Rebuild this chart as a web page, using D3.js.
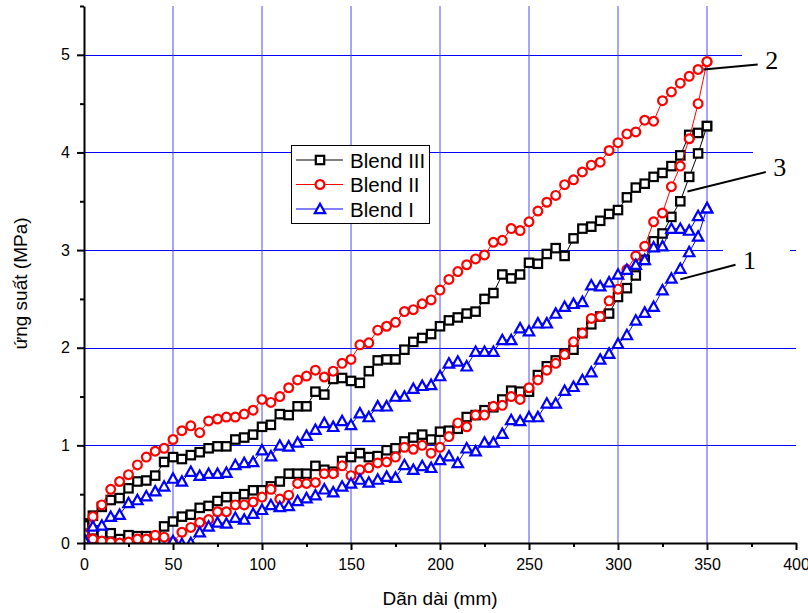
<!DOCTYPE html>
<html>
<head>
<meta charset="utf-8">
<script src="https://cdn.jsdelivr.net/npm/d3@7"></script>
<style>
  body { margin: 0; background: #fff; }
  svg { display: block; }
</style>
</head>
<body>
<div id="chart"></div>
<script>
// elongation (mm), one sample every 5 mm
const strain = [0,5,10,15,20,25,30,35,40,45,50,55,60,65,70,75,80,85,90,95,100,
  105,110,115,120,125,130,135,140,145,150,155,160,165,170,175,180,185,190,195,200,
  205,210,215,220,225,230,235,240,245,250,255,260,265,270,275,280,285,290,295,300,
  305,310,315,320,325,330,335,340,345,350];

// stress (MPa): upper branch and lower branch, both listed from 0 to 350 mm
const blend3Upper = [0.20,0.28,0.37,0.44,0.46,0.56,0.63,0.64,0.69,0.83,0.88,0.86,0.90,0.93,0.97,0.99,0.99,1.06,1.08,1.11,1.19,
  1.21,1.32,1.31,1.40,1.40,1.55,1.52,1.68,1.69,1.66,1.64,1.76,1.87,1.88,1.88,1.98,2.06,2.10,2.14,2.22,
  2.28,2.31,2.35,2.37,2.50,2.56,2.75,2.71,2.75,2.87,2.86,2.96,3.02,2.94,3.12,3.22,3.24,3.30,3.37,3.41,
  3.54,3.64,3.68,3.75,3.79,3.86,3.97,4.18,4.20,4.27];
const blend3Lower = [0.18,0.13,0.10,0.10,0.04,0.08,0.07,0.07,0.02,0.17,0.22,0.27,0.29,0.36,0.38,0.43,0.47,0.47,0.50,0.54,0.54,
  0.58,0.63,0.71,0.71,0.71,0.79,0.75,0.73,0.84,0.88,0.92,0.88,0.89,0.95,0.97,1.04,1.08,1.11,1.06,1.14,
  1.15,1.17,1.29,1.31,1.36,1.39,1.47,1.56,1.55,1.55,1.72,1.81,1.87,1.94,1.98,2.15,2.24,2.32,2.35,2.52,
  2.61,2.74,2.90,3.09,3.17,3.34,3.50,3.75,3.99,4.27];

const blend2Upper = [0.09,0.27,0.39,0.55,0.63,0.70,0.80,0.88,0.94,0.97,1.06,1.15,1.20,1.13,1.25,1.27,1.29,1.29,1.32,1.36,1.47,
  1.44,1.50,1.59,1.67,1.71,1.77,1.70,1.76,1.84,1.88,2.03,2.05,2.18,2.22,2.26,2.37,2.39,2.45,2.49,2.59,
  2.70,2.78,2.85,2.91,2.95,3.08,3.10,3.22,3.20,3.29,3.40,3.49,3.56,3.67,3.72,3.80,3.87,3.90,4.02,4.10,
  4.19,4.21,4.33,4.32,4.53,4.62,4.71,4.78,4.85,4.93];
const blend2Lower = [0.09,0.04,0.02,0.01,0.00,0.01,0.04,0.04,0.08,0.06,0.01,0.11,0.16,0.21,0.24,0.32,0.32,0.39,0.39,0.42,0.47,
  0.55,0.45,0.49,0.61,0.61,0.62,0.71,0.71,0.79,0.69,0.75,0.77,0.82,0.83,0.88,0.98,0.96,1.00,0.92,0.98,
  1.09,1.23,1.19,1.31,1.31,1.40,1.41,1.50,1.47,1.59,1.67,1.77,1.84,1.93,2.06,2.15,2.30,2.32,2.48,2.60,
  2.80,2.94,3.04,3.29,3.38,3.65,3.86,4.14,4.50,4.93];

const blend1Upper = [0.04,0.17,0.18,0.27,0.29,0.41,0.44,0.48,0.53,0.58,0.66,0.63,0.73,0.69,0.71,0.71,0.72,0.80,0.82,0.83,0.95,
  0.89,1.00,0.99,1.03,1.10,1.16,1.23,1.19,1.25,1.21,1.33,1.29,1.40,1.40,1.50,1.50,1.58,1.61,1.62,1.71,
  1.84,1.86,1.81,1.96,1.96,1.96,2.08,2.08,2.20,2.17,2.25,2.25,2.35,2.42,2.45,2.47,2.64,2.63,2.67,2.75,
  2.80,2.85,2.90,3.03,3.04,3.22,3.22,3.20,3.35,3.43];
const blend1Lower = [0.04,-0.06,-0.10,-0.12,-0.14,-0.14,-0.12,-0.12,-0.10,-0.06,0.02,-0.01,0.00,0.11,0.17,0.21,0.20,0.26,0.24,0.30,0.34,
  0.39,0.37,0.38,0.43,0.46,0.49,0.55,0.52,0.58,0.61,0.65,0.62,0.65,0.68,0.67,0.80,0.75,0.79,0.77,0.85,
  0.89,0.82,0.97,0.94,1.03,1.03,1.12,1.26,1.25,1.29,1.29,1.43,1.43,1.56,1.60,1.67,1.75,1.88,1.94,2.04,
  2.13,2.28,2.36,2.42,2.59,2.71,2.81,2.98,3.14,3.43];

const seriesNames = ['Blend III', 'Blend II', 'Blend I'];
const seriesColors = ['#000000', '#ff0000', '#0000ff'];
const seriesMarkers = ['square', 'circle', 'triangle'];
const upperBranches = [blend3Upper, blend2Upper, blend1Upper];
const lowerBranches = [blend3Lower, blend2Lower, blend1Lower];

const xTicks = [0, 50, 100, 150, 200, 250, 300, 350, 400];
const xMinorTicks = [25, 75, 125, 175, 225, 275, 325, 375];
const yTicks = [0, 1, 2, 3, 4, 5];
const yMinorTicks = [0.5, 1.5, 2.5, 3.5, 4.5, 5.5];

// curve labels: number, x/y of the leader line end near the curve
const callouts = [
  { label: '2', from: [348, 4.85], to: [378.5, 4.9] },
  { label: '3', from: [339, 3.6], to: [383, 3.8] },
  { label: '1', from: [335, 2.7], to: [366, 2.85] }
];

const W = 808, H = 613;
const x = d3.scaleLinear().domain([0, 400]).range([84, 796]);
const y = d3.scaleLinear().domain([0, 5.5]).range([543, 6]);

const svg = d3.select('#chart').append('svg')
  .attr('width', W)
  .attr('height', H)
  .style('font-family', '"Liberation Sans", Arial, sans-serif');

svg.append('defs').append('clipPath').attr('id', 'plot-clip')
  .append('rect')
  .attr('x', x(0)).attr('y', y(5.5))
  .attr('width', x(400) - x(0)).attr('height', y(0) - y(5.5));

// grid
const grid = svg.append('g').attr('stroke', '#0000ff').attr('stroke-width', 1);
grid.selectAll('line.h')
  .data([1, 2, 3, 4, 5])
  .enter().append('line')
  .attr('class', 'h')
  .attr('x1', x(0)).attr('x2', x(400))
  .attr('y1', d => Math.round(y(d)) + 0.5).attr('y2', d => Math.round(y(d)) + 0.5);
grid.selectAll('line.v')
  .data([50, 100, 150, 200, 250, 300, 350])
  .enter().append('line')
  .attr('class', 'v')
  .attr('stroke', '#4d4dff')
  .attr('x1', d => x(d)).attr('x2', d => x(d))
  .attr('y1', y(5.5)).attr('y2', y(0));

// white boxes behind the curve numbers hide part of the grid
const masks = [[742, 45, 66, 22], [753, 145, 55, 20], [723, 243, 67, 16]];
svg.append('g').selectAll('rect')
  .data(masks)
  .enter().append('rect')
  .attr('x', d => d[0]).attr('y', d => d[1])
  .attr('width', d => d[2]).attr('height', d => d[3])
  .attr('fill', '#fff');

// curves
const line = d3.line().x(d => x(d[0])).y(d => y(d[1]));
const plot = svg.append('g').attr('clip-path', 'url(#plot-clip)');

function marker(sel, type, color) {
  if (type === 'square') {
    sel.append('rect')
      .attr('x', -4.2).attr('y', -4.2).attr('width', 8.4).attr('height', 8.4)
      .attr('fill', '#fff').attr('stroke', color).attr('stroke-width', 2.2);
  } else if (type === 'circle') {
    sel.append('circle')
      .attr('r', 4.4)
      .attr('fill', '#fff').attr('stroke', color).attr('stroke-width', 2.2);
  } else {
    sel.append('path')
      .attr('d', 'M0,-5.2L5.2,4.2L-5.2,4.2Z')
      .attr('fill', '#fff').attr('stroke', color).attr('stroke-width', 2.2)
      .attr('stroke-linejoin', 'miter');
  }
}

seriesNames.forEach((name, i) => {
  const up = strain.map((s, k) => [s, upperBranches[i][k]]);
  const down = strain.map((s, k) => [s, lowerBranches[i][k]]).reverse();
  const pts = up.concat(down);

  plot.append('path')
    .datum(pts)
    .attr('fill', 'none')
    .attr('stroke', seriesColors[i])
    .attr('stroke-width', 1)
    .attr('d', line);

  const g = plot.append('g');
  pts.forEach(p => {
    const m = g.append('g').attr('transform', `translate(${x(p[0])},${y(p[1])})`);
    marker(m, seriesMarkers[i], seriesColors[i]);
  });
});

// callouts
const notes = svg.append('g');
callouts.forEach(c => {
  notes.append('line')
    .attr('x1', x(c.from[0])).attr('y1', y(c.from[1]))
    .attr('x2', x(c.to[0])).attr('y2', y(c.to[1]))
    .attr('stroke', '#000').attr('stroke-width', 2);
});
notes.selectAll('text')
  .data(callouts)
  .enter().append('text')
  .attr('x', d => x(d.to[0]) + 14)
  .attr('y', d => y(d.to[1]) + 4)
  .attr('text-anchor', 'middle')
  .style('font-family', '"Liberation Serif", "Times New Roman", serif')
  .style('font-size', '26px')
  .text(d => d.label);

// axes
svg.append('g').attr('transform', `translate(0,${y(0)})`)
  .call(d3.axisBottom(x).tickValues(xTicks).tickSize(7).tickPadding(9).tickSizeOuter(0));
svg.append('g').attr('transform', `translate(0,${y(0)})`)
  .call(d3.axisBottom(x).tickValues(xMinorTicks).tickSize(4).tickFormat('').tickSizeOuter(0))
  .select('.domain').remove();
svg.append('g').attr('transform', `translate(${x(0)},0)`)
  .call(d3.axisLeft(y).tickValues(yTicks).tickSize(7).tickPadding(7)
    .tickFormat(d3.format('d')).tickSizeOuter(0));
svg.append('g').attr('transform', `translate(${x(0)},0)`)
  .call(d3.axisLeft(y).tickValues(yMinorTicks).tickSize(4).tickFormat('').tickSizeOuter(0))
  .select('.domain').remove();

svg.selectAll('.domain').attr('stroke-width', 2);
svg.selectAll('.tick line').attr('stroke-width', 2);
svg.selectAll('.tick text')
  .style('font-family', '"Liberation Sans", Arial, sans-serif')
  .style('font-size', '16px')
  .attr('fill', '#000');

svg.append('text')
  .attr('x', (x(0) + x(400)) / 2)
  .attr('y', 605)
  .attr('text-anchor', 'middle')
  .style('font-size', '19px')
  .text('Dãn dài (mm)');

svg.append('text')
  .attr('transform', `translate(27,${(y(0) + y(5.5)) / 2 + 9}) rotate(-90)`)
  .attr('text-anchor', 'middle')
  .style('font-size', '19px')
  .text('ứng suất (MPa)');

// legend
const legend = svg.append('g');
legend.append('rect')
  .attr('x', 291.5).attr('y', 145.5).attr('width', 138).attr('height', 78)
  .attr('fill', '#fff').attr('stroke', '#000').attr('stroke-width', 1);
const rows = legend.selectAll('g.row')
  .data(seriesNames)
  .enter().append('g')
  .attr('class', 'row')
  .attr('transform', (d, i) => `translate(0,${160 + i * 24.5})`);
rows.append('line')
  .attr('x1', 296).attr('x2', 343)
  .attr('stroke', (d, i) => seriesColors[i]).attr('stroke-width', 1);
rows.each(function (d, i) {
  const m = d3.select(this).append('g').attr('transform', 'translate(320,0)');
  marker(m, seriesMarkers[i], seriesColors[i]);
});
rows.append('text')
  .attr('x', 350).attr('y', 7.5)
  .style('font-size', '20.5px')
  .text(d => d);
</script>
</body>
</html>
